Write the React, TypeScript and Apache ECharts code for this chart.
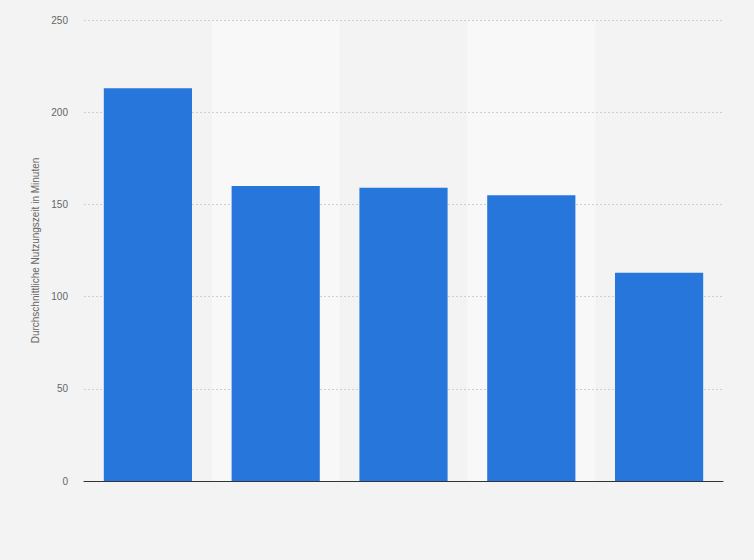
import React, { useRef, useEffect } from 'react'
import * as echarts from 'echarts'

// Daten
const categories = ['A', 'B', 'C', 'D', 'E']
const values = [213, 160, 159, 155, 113]
const yTicks = [0, 50, 100, 150, 200, 250]

const App: React.FC = () => {
  const chartRef = useRef<HTMLDivElement>(null)

  useEffect(() => {
    if (!chartRef.current) return
    const chart = echarts.init(chartRef.current, undefined, { renderer: 'svg' })

    const option = {
      animation: false,
      backgroundColor: '#f3f3f3',
      grid: { left: 84, right: 31, top: 20, bottom: 79 },
      xAxis: {
        type: 'category',
        data: categories,
        z: 0,
        axisLine: { show: true, lineStyle: { color: '#333', width: 1 } },
        axisTick: { show: false },
        axisLabel: { show: false },
        splitArea: {
          show: true,
          areaStyle: { color: ['rgba(0,0,0,0)', '#f8f8f8'] },
        },
      },
      yAxis: {
        type: 'value',
        min: yTicks[0],
        max: yTicks[yTicks.length - 1],
        interval: 50,
        z: 1,
        name: 'Durchschnittliche Nutzungszeit in Minuten',
        nameLocation: 'middle',
        nameGap: 40,
        nameTextStyle: { color: '#666', fontSize: 10, fontFamily: 'Arial, Liberation Sans, sans-serif' },
        axisLine: { show: false },
        axisTick: { show: false },
        axisLabel: {
          color: '#666',
          fontSize: 10,
          margin: 16,
          fontFamily: 'Arial, Liberation Sans, sans-serif',
        },
        splitLine: {
          showMinLine: false,
          lineStyle: { color: '#cfcfcf', type: [2, 2], width: 1 },
        },
      },
      series: [
        {
          type: 'bar',
          data: values,
          z: 2,
          barCategoryGap: '31%',
          itemStyle: { color: '#2776dc' },
        },
      ],
    }

    chart.setOption(option)
    return () => chart.dispose()
  }, [])

  return (
    <div
      ref={chartRef}
      style={{ position: 'absolute', left: 0, top: 0, width: 754, height: 560 }}
    />
  )
}

export default App
